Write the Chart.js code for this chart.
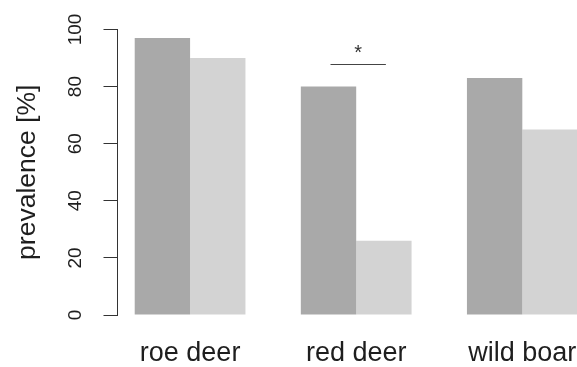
<!DOCTYPE html>
<html>
<head>
<meta charset="utf-8">
<script src="https://cdn.jsdelivr.net/npm/chart.js@4/dist/chart.umd.min.js"></script>
<style>
  html, body { margin: 0; padding: 0; background: #ffffff; overflow: hidden; }
  #wrap { width: 577px; height: 367px; overflow: hidden; position: relative; }
  canvas { display: block; }
</style>
</head>
<body>
<div id="wrap"><canvas id="chart" width="620" height="367"></canvas></div>
<script>
// Species groups along the x axis
const categories = ['roe deer', 'red deer', 'wild boar'];
// Prevalence (%) per species, two groups side by side
const groupDark = [97, 80, 83];
const groupLight = [90, 26, 65];
// Y axis tick values
const yTicks = [0, 20, 40, 60, 80, 100];
// Significance bracket: species index, bracket height (%), marker
const sigIndex = 1;
const sigLevel = 88;
const sigMark = '*';

const FONT = "'Liberation Sans', Arial, Helvetica, sans-serif";
const INK = '#1e1e1e';

const toPoints = (vals) => vals.map((v, i) => ({ x: i, y: v }));

// Bracket with asterisk above the two bars of one species
const significancePlugin = {
  id: 'significance',
  afterDatasetsDraw(chart) {
    const a = chart.getDatasetMeta(0).data[sigIndex];
    const b = chart.getDatasetMeta(1).data[sigIndex];
    if (!a || !b) return;
    const y = chart.scales.y.getPixelForValue(sigLevel);
    const ctx = chart.ctx;
    ctx.save();
    ctx.strokeStyle = '#444444';
    ctx.lineWidth = 1;
    ctx.beginPath();
    ctx.moveTo(a.x + 2, Math.round(y) + 0.5);
    ctx.lineTo(b.x + 2, Math.round(y) + 0.5);
    ctx.stroke();
    ctx.fillStyle = '#333333';
    ctx.font = '20px ' + FONT;
    ctx.textAlign = 'center';
    ctx.textBaseline = 'alphabetic';
    ctx.fillText(sigMark, (a.x + b.x) / 2 + 2, y - 5);
    ctx.restore();
  }
};

new Chart(document.getElementById('chart'), {
  type: 'bar',
  data: {
    datasets: [
      {
        label: 'dark',
        data: toPoints(groupDark),
        backgroundColor: '#a9a9a9',
        borderWidth: 0
      },
      {
        label: 'light',
        data: toPoints(groupLight),
        backgroundColor: '#d3d3d3',
        borderWidth: 0
      }
    ]
  },
  options: {
    responsive: false,
    animation: false,
    events: [],
    categoryPercentage: 2 / 3,
    barPercentage: 1,
    layout: { padding: { top: 29.5, right: 24.6, bottom: 0, left: 0 } },
    plugins: {
      legend: { display: false },
      tooltip: { enabled: false },
      title: { display: false }
    },
    scales: {
      x: {
        type: 'linear',
        offset: false,
        min: -0.44,
        max: 2.44,
        afterBuildTicks: (scale) => {
          scale.ticks = categories.map((_, i) => ({ value: i }));
        },
        afterFit: (scale) => { scale.height = 52; },
        grid: { display: false, drawTicks: false },
        border: { display: false },
        ticks: {
          autoSkip: false,
          maxRotation: 0,
          minRotation: 0,
          padding: 22,
          color: INK,
          font: { family: FONT, size: 27 },
          callback: (value) => categories[value]
        }
      },
      y: {
        type: 'linear',
        min: 0,
        max: 100,
        afterBuildTicks: (scale) => {
          scale.ticks = yTicks.map((v) => ({ value: v }));
        },
        afterFit: (scale) => { scale.width = 117; },
        grid: {
          display: true,
          drawOnChartArea: false,
          drawTicks: true,
          tickLength: 13.5,
          color: '#333333',
          lineWidth: 1
        },
        border: { display: true, color: '#333333', width: 1 },
        ticks: {
          minRotation: 90,
          maxRotation: 90,
          crossAlign: 'center',
          padding: 11.5,
          color: INK,
          font: { family: FONT, size: 19 }
        },
        title: {
          display: true,
          text: 'prevalence [%]',
          color: INK,
          font: { family: FONT, size: 26.5 },
          padding: { top: 12, bottom: 0 }
        }
      }
    }
  },
  plugins: [significancePlugin]
});
</script>
</body>
</html>
